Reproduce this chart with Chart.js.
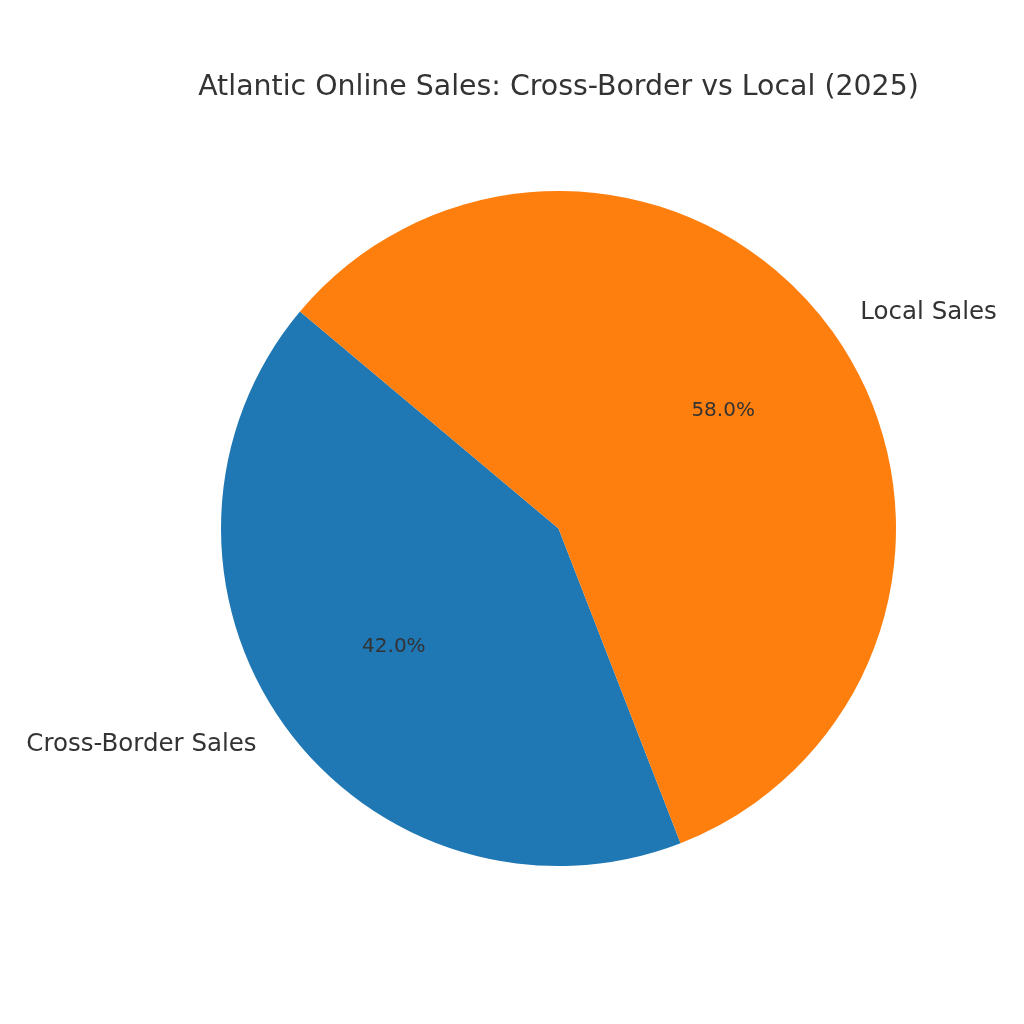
<!DOCTYPE html>
<html>
<head>
<meta charset="utf-8">
<script src="https://cdn.jsdelivr.net/npm/chart.js@4/dist/chart.umd.min.js"></script>
<style>
  html, body { margin: 0; padding: 0; background: #fff; }
  #wrap { width: 1024px; height: 1024px; }
</style>
</head>
<body>
<div id="wrap"><canvas id="sales-pie-canvas" width="1024" height="1024"></canvas></div>
<script>
const categories = ['Cross-Border Sales', 'Local Sales'];
const shares = [42.0, 58.0];
const sliceColors = ['#1f77b4', '#ff7f0e'];
const chartTitle = 'Atlantic Online Sales: Cross-Border vs Local (2025)';

const textColor = '#333333';
const fontFamily = '"DejaVu Sans", sans-serif';

// draws the title, the outside labels and the percentages like matplotlib's autopct
// (title drawn here because the built-in one gets squeezed to the padded width)
const sliceLabels = {
  id: 'sliceLabels',
  afterDatasetsDraw(chart) {
    const ctx = chart.ctx;
    const total = shares.reduce((a, b) => a + b, 0);
    const meta = chart.getDatasetMeta(0);

    ctx.save();
    ctx.fillStyle = textColor;
    ctx.textBaseline = 'middle';
    ctx.textAlign = 'center';
    ctx.font = '28.4px ' + fontFamily;
    ctx.fillText(chartTitle, meta.data[0].x, 88);
    ctx.restore();

    meta.data.forEach((arc, i) => {
      const mid = (arc.startAngle + arc.endAngle) / 2;
      const r = arc.outerRadius;
      const cx = arc.x, cy = arc.y;
      ctx.save();
      ctx.fillStyle = textColor;
      ctx.textBaseline = 'middle';

      ctx.font = '24.5px ' + fontFamily;
      ctx.textAlign = Math.cos(mid) >= 0 ? 'left' : 'right';
      ctx.fillText(categories[i], cx + Math.cos(mid) * r * 1.1, cy + Math.sin(mid) * r * 1.1);

      ctx.font = '20px ' + fontFamily;
      ctx.textAlign = 'center';
      const pct = (shares[i] / total * 100).toFixed(1) + '%';
      ctx.fillText(pct, cx + Math.cos(mid) * r * 0.6, cy + Math.sin(mid) * r * 0.6);
      ctx.restore();
    });
  }
};

const salesPie = new Chart('sales-pie-canvas', {
  type: 'pie',
  data: {
    labels: categories,
    datasets: [{
      data: shares,
      backgroundColor: sliceColors,
      borderWidth: 0,
    }],
  },
  options: {
    responsive: false,
    animation: false,
    rotation: 158.8,
    layout: {
      padding: { left: 221, right: 128, top: 191, bottom: 158 },
    },
    plugins: {
      legend: { display: false },
      tooltip: { enabled: false },
      title: { display: false },
    },
  },
  plugins: [sliceLabels],
});
</script>
</body>
</html>
